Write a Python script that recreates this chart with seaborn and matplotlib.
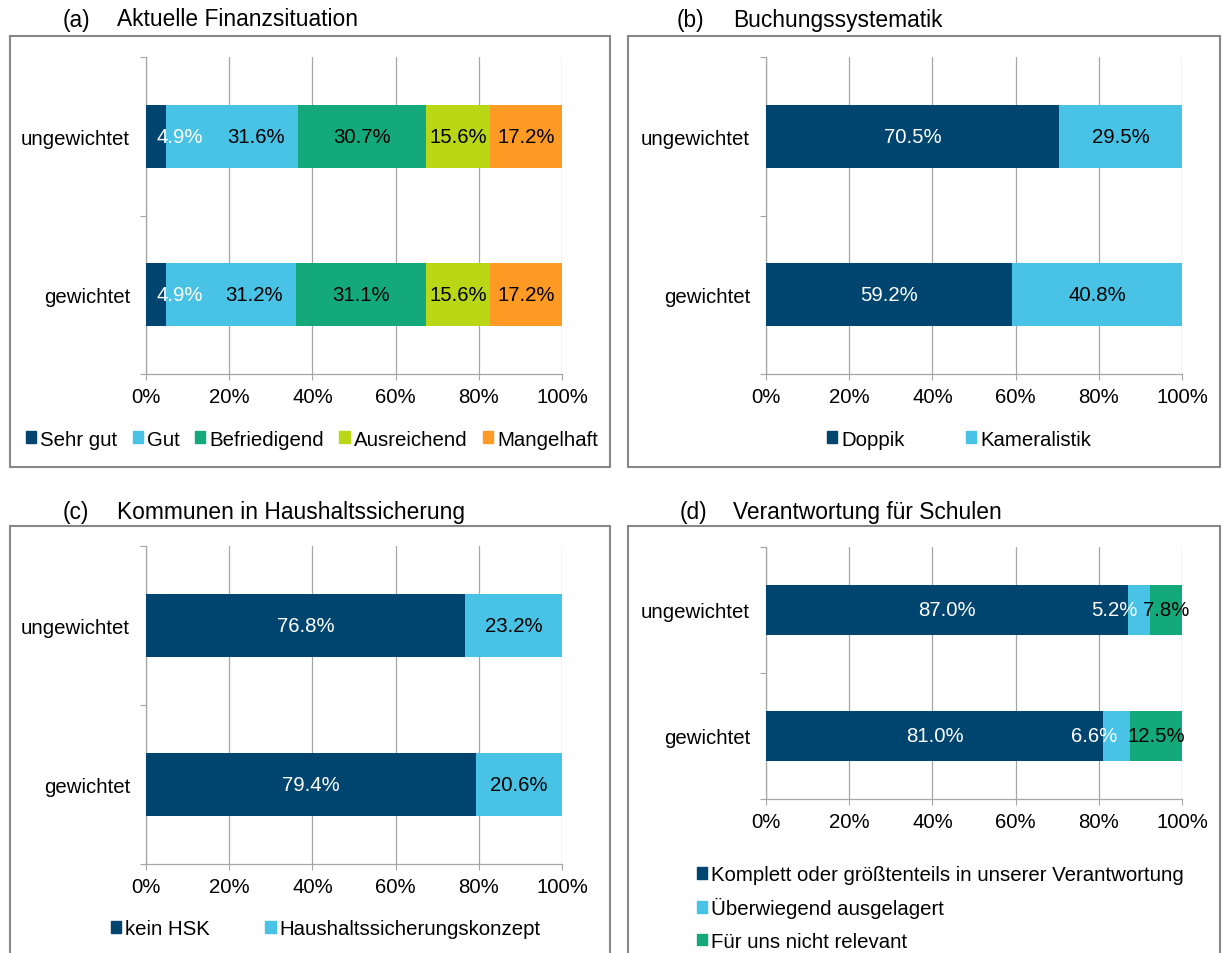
import matplotlib
matplotlib.use("Agg")
import matplotlib.pyplot as plt
import seaborn as sns
import pandas as pd
import numpy as np
from matplotlib.patches import Rectangle, Patch

# ---------------- data ----------------
groups = ["ungewichtet", "gewichtet"]

a_series = ["Sehr gut", "Gut", "Befriedigend", "Ausreichend", "Mangelhaft"]
a_sehr_gut = [4.9, 4.9]
a_gut = [31.6, 31.2]
a_befriedigend = [30.7, 31.1]
a_ausreichend = [15.6, 15.6]
a_mangelhaft = [17.2, 17.2]

b_series = ["Doppik", "Kameralistik"]
b_doppik = [70.5, 59.2]
b_kameralistik = [29.5, 40.8]

c_series = ["kein HSK", "Haushaltssicherungskonzept"]
c_kein_hsk = [76.8, 79.4]
c_hsk = [23.2, 20.6]

d_series = ["Komplett oder größtenteils in unserer Verantwortung",
            "Überwiegend ausgelagert", "Für uns nicht relevant"]
d_komplett = [87.0, 81.0]
d_ausgelagert = [5.2, 6.6]
d_nicht_relevant = [7.8, 12.5]

x_ticks = [0, 20, 40, 60, 80, 100]
x_tick_labels = ["0%", "20%", "40%", "60%", "80%", "100%"]

titles = [("(a)", "Aktuelle Finanzsituation"), ("(b)", "Buchungssystematik"),
          ("(c)", "Kommunen in Haushaltssicherung"), ("(d)", "Verantwortung für Schulen")]

# ---------------- style ----------------
NAVY = "#00456F"
LBLUE = "#48C3E5"
GREEN = "#13A97B"
YGREEN = "#BAD716"
ORANGE = "#FF9A24"
GRID = "#A6A6A6"
BOX = "#878787"

sns.set_theme(style="white")
plt.rcParams['font.family'] = ['Liberation Sans', 'DejaVu Sans']
plt.rcParams['text.color'] = 'black'
plt.rcParams['axes.labelcolor'] = 'black'
plt.rcParams['xtick.color'] = 'black'
plt.rcParams['ytick.color'] = 'black'
FS = 14.7
TFS = 16.4

W, H = 1230, 954
fig = plt.figure(figsize=(W / 100, H / 100), dpi=100)
fig.patch.set_facecolor("white")


def fx(px):
    return px / W


def fy(py):
    return 1 - py / H


def add_axes(x0, x1, y0, y1):
    return fig.add_axes([fx(x0), fy(y1), fx(x1 - x0), (y1 - y0) / H])


def draw_panel(ax, values, colors, label_colors, label_offsets):
    vals = np.array(values, dtype=float)
    cum = np.cumsum(vals, axis=0)
    for k in range(len(vals) - 1, -1, -1):
        df = pd.DataFrame({"group": groups, "cum": cum[k]})
        sns.barplot(data=df, x="cum", y="group", order=groups, orient="h",
                    color=colors[k], saturation=1, width=0.4, linewidth=0,
                    errorbar=None, ax=ax, zorder=3)
    for k in range(len(vals)):
        for j in range(len(groups)):
            start = cum[k][j] - vals[k][j]
            xc = start + vals[k][j] / 2 + label_offsets[k][j]
            ax.text(xc, j, f"{vals[k][j]:.1f}%", ha="center", va="center",
                    color=label_colors[k], fontsize=FS, zorder=5)
    ax.set_xlim(0, 100)
    ax.set_ylim(1.5, -0.5)
    ax.set_xlabel("")
    ax.set_ylabel("")
    ax.set_xticks(x_ticks, x_tick_labels)
    ax.set_yticks([0, 1], groups)
    ax.set_yticks([-0.5, 0.5, 1.5], minor=True)
    ax.tick_params(axis="x", which="major", bottom=True, length=4, width=0.8,
                   color=GRID, direction="out", pad=5.5, labelsize=FS, labelcolor="black")
    ax.tick_params(axis="y", which="major", left=False, length=0, pad=11.5,
                   labelsize=FS, labelcolor="black")
    ax.tick_params(axis="y", which="minor", left=True, length=4, width=0.8,
                   color=GRID, direction="out")
    ax.grid(axis="x", color=GRID, lw=0.9)
    ax.grid(axis="y", visible=False)
    ax.set_axisbelow(True)
    for s in ["top", "right"]:
        ax.spines[s].set_visible(False)
    for s in ["left", "bottom"]:
        ax.spines[s].set_color(GRID)
        ax.spines[s].set_linewidth(0.9)
    ax.set_facecolor("none")


# panel boxes
for (x0, y0, x1, y1) in [(10, 37, 610, 468), (628, 37, 1220, 468),
                         (10, 527, 610, 965), (628, 527, 1220, 965)]:
    fig.patches.append(Rectangle((fx(x0), fy(y1)), fx(x1 - x0), (y1 - y0) / H,
                                 transform=fig.transFigure, fill=False,
                                 edgecolor=BOX, lw=1.5, zorder=0))

# titles
for (lab, txt), (xl, xt, yy) in zip(titles, [(63, 117, 20), (677, 733, 20),
                                              (63, 117, 512), (680, 733, 512)]):
    fig.text(fx(xl), fy(yy), lab, ha="left", va="center", fontsize=TFS, color="black")
    fig.text(fx(xt), fy(yy), txt, ha="left", va="center", fontsize=TFS, color="black")

leg_kw = dict(frameon=False, fontsize=FS, handlelength=0.5, handleheight=0.5,
              handletextpad=0.2, borderpad=0, borderaxespad=0, labelcolor="black")

# (a)
ax_a = add_axes(146, 562, 58, 375)
cols_a = [NAVY, LBLUE, GREEN, YGREEN, ORANGE]
draw_panel(ax_a, [a_sehr_gut, a_gut, a_befriedigend, a_ausreichend, a_mangelhaft],
           cols_a, ["white", "black", "black", "black", "black"],
           [[5.75, 5.75], [5.7, 5.5], [0, 0], [0, 0], [0, 0]])
fig.legend([Patch(color=c) for c in cols_a], a_series, loc="center",
           bbox_to_anchor=(fx(312), fy(440)), ncol=5, columnspacing=0.75, **leg_kw)

# (b)
ax_b = add_axes(766, 1182, 58, 375)
cols_b = [NAVY, LBLUE]
draw_panel(ax_b, [b_doppik, b_kameralistik], cols_b, ["white", "black"],
           [[0, 0], [0, 0]])
fig.legend([Patch(color=c) for c in cols_b], b_series, loc="center",
           bbox_to_anchor=(fx(959), fy(440)), ncol=2, columnspacing=3.0, **leg_kw)

# (c)
ax_c = add_axes(146, 562, 547, 865)
cols_c = [NAVY, LBLUE]
draw_panel(ax_c, [c_kein_hsk, c_hsk], cols_c, ["white", "black"],
           [[0, 0], [0, 0]])
fig.legend([Patch(color=c) for c in cols_c], c_series, loc="center",
           bbox_to_anchor=(fx(326), fy(930)), ncol=2, columnspacing=2.7, **leg_kw)

# (d)
ax_d = add_axes(766, 1182, 548, 800)
cols_d = [NAVY, LBLUE, GREEN]
draw_panel(ax_d, [d_komplett, d_ausgelagert, d_nicht_relevant], cols_d,
           ["white", "white", "black"], [[0, 0], [-5.9, -5.5], [0, 0]])
fig.legend([Patch(color=c) for c in cols_d], d_series, loc="upper left",
           bbox_to_anchor=(fx(697), fy(866)), ncol=1, labelspacing=0.65, **leg_kw)

fig.savefig("out.png", dpi=100)
